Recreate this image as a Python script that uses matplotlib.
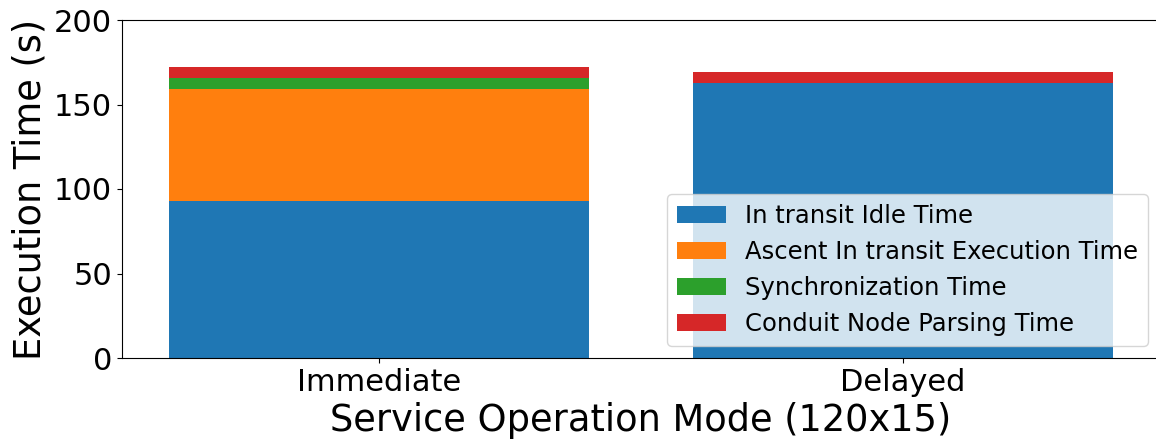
import numpy as np
import matplotlib
matplotlib.use("Agg")
import matplotlib.pyplot as plt

modes = ["Immediate", "Delayed"]
series_names = [
    "In transit Idle Time",
    "Ascent In transit Execution Time",
    "Synchronization Time",
    "Conduit Node Parsing Time",
]
idle_time = [93.0, 163.0]
ascent_exec_time = [66.3, 0.0]
sync_time = [6.5, 0.0]
parsing_time = [6.5, 6.3]

fig = plt.figure(figsize=(11.56, 4.43), dpi=100)
# axes runs slightly past the right edge, like the cropped original
ax = fig.add_axes([122 / 1156, 85 / 443, 1038 / 1156, 338 / 443])

x = np.arange(len(modes))
bottom = np.zeros(len(modes))
for name, vals in zip(series_names, [idle_time, ascent_exec_time, sync_time, parsing_time]):
    ax.bar(x, vals, 0.8, bottom=bottom, label=name)
    bottom += np.array(vals)

ax.set_xticks(x)
ax.set_xticklabels(modes)
ax.set_ylim(0, 200)
ax.set_yticks([0, 50, 100, 150, 200])
ax.tick_params(axis="both", labelsize=22)
ax.set_ylabel("Execution Time (s)", fontsize=26.5)
ax.set_xlabel("Service Operation Mode (120x15)", fontsize=26.5)
ax.legend(loc="lower right", fontsize=17.5)

plt.savefig("out.png", dpi=100)
